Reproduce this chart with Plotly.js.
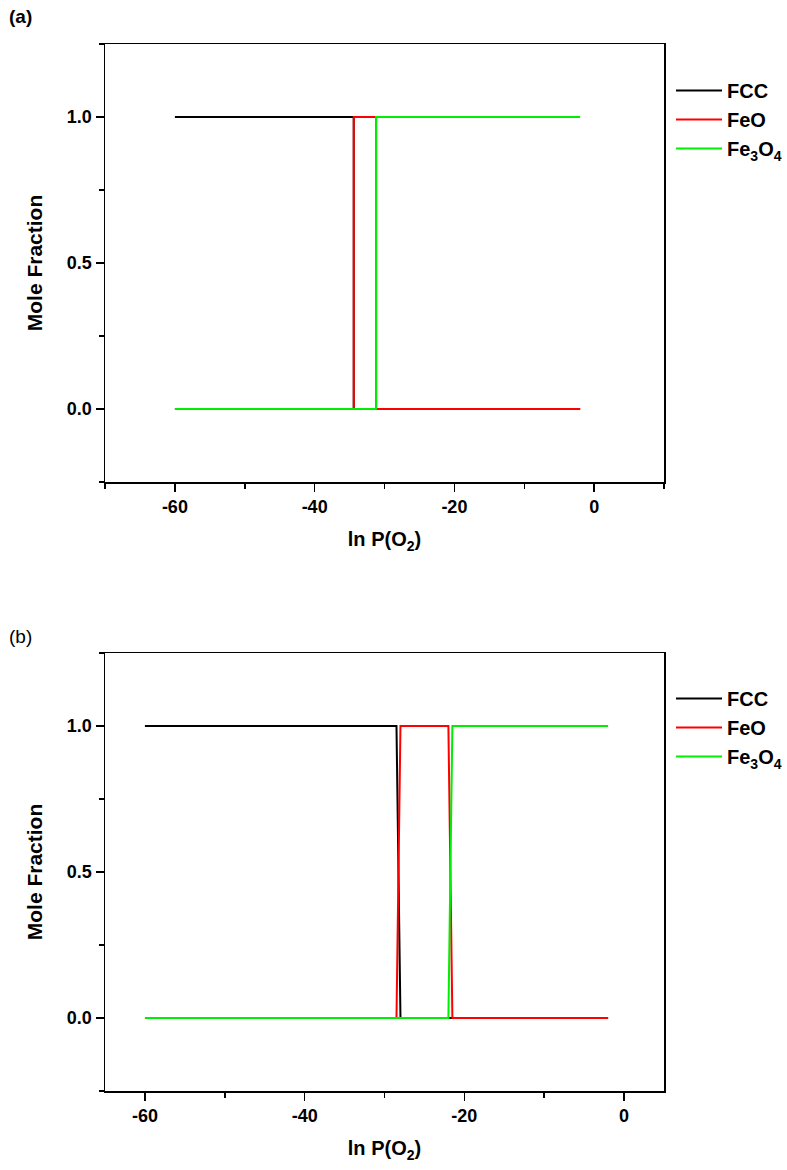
<!DOCTYPE html>
<html>
<head>
<meta charset="utf-8">
<script src="https://cdn.plot.ly/plotly-3.0.1.min.js"></script>
<style>html,body{margin:0;padding:0;background:#fff;}#chart{width:787px;height:1170px;}</style>
</head>
<body>
<div id="chart"></div>
<script>
// Panel (a)
const xFccA = [-60, -34.4, -34.4, -2];
const yFccA = [1, 1, 0, 0];
const xFeoA = [-60, -34.4, -34.4, -31.2, -31.2, -2];
const yFeoA = [0, 0, 1, 1, 0, 0];
const xFe3A = [-60, -31.2, -31.2, -2];
const yFe3A = [0, 0, 1, 1];
// Panel (b)
const xFccB = [-60, -28.5, -28.0, -2];
const yFccB = [1, 1, 0, 0];
const xFeoB = [-60, -28.5, -28.0, -22.0, -21.5, -2];
const yFeoB = [0, 0, 1, 1, 0, 0];
const xFe3B = [-60, -22.0, -21.5, -2];
const yFe3B = [0, 0, 1, 1];

// Tick labels
const xTickVals = [-60, -40, -20, 0];
const xTickText = ['-60', '-40', '-20', '0'];
const yTickVals = [0, 0.5, 1];
const yTickText = ['0.0', '0.5', '1.0'];

const names = ['FCC', 'FeO', 'Fe<sub>3</sub>O<sub>4</sub>'];
const colors = ['#000000', '#ff0000', '#00ee00'];

const FONT = 'Liberation Sans, Arial, sans-serif';

function tr(x, y, i, xa, ya, leg) {
  return {x: x, y: y, type: 'scatter', mode: 'lines', name: names[i],
    line: {color: colors[i], width: 2}, xaxis: xa, yaxis: ya, legend: leg};
}

const data = [
  tr(xFccA, yFccA, 0, 'x', 'y', 'legend'),
  tr(xFeoA, yFeoA, 1, 'x', 'y', 'legend'),
  tr(xFe3A, yFe3A, 2, 'x', 'y', 'legend'),
  tr(xFccB, yFccB, 0, 'x2', 'y2', 'legend2'),
  tr(xFeoB, yFeoB, 1, 'x2', 'y2', 'legend2'),
  tr(xFe3B, yFe3B, 2, 'x2', 'y2', 'legend2')
];

const W = 787, H = 1170;
function xax(range, anchor, titleText) {
  return {
    range: range, anchor: anchor, domain: [105 / W, 664 / W],
    tickmode: 'array', tickvals: xTickVals, ticktext: xTickText,
    ticks: 'outside', ticklen: 8, tickwidth: 1.5, tickcolor: '#000',
    minor: {dtick: 10, tick0: 0, ticks: 'outside', ticklen: 5, tickwidth: 1.5, tickcolor: '#000'},
    showline: true, linecolor: '#000', linewidth: 1.5, mirror: true,
    showgrid: false, zeroline: false,
    tickfont: {family: FONT, size: 18, color: '#000', weight: 'bold'},
    title: {text: titleText, font: {family: FONT, size: 20, color: '#000', weight: 'bold'}, standoff: 16}
  };
}
function yax(domain, anchor) {
  return {
    range: [-0.25, 1.25], anchor: anchor, domain: domain,
    tickmode: 'array', tickvals: yTickVals, ticktext: yTickText,
    ticks: 'outside', ticklen: 8, tickwidth: 1.5, tickcolor: '#000',
    minor: {dtick: 0.25, tick0: 0, ticks: 'outside', ticklen: 5, tickwidth: 1.5, tickcolor: '#000'},
    showline: true, linecolor: '#000', linewidth: 1.5, mirror: true,
    showgrid: false, zeroline: false,
    tickfont: {family: FONT, size: 18, color: '#000', weight: 'bold'},
    title: {text: 'Mole Fraction', font: {family: FONT, size: 21, color: '#000', weight: 'bold'}, standoff: 18}
  };
}

const legFont = {family: FONT, size: 20, color: '#000', weight: 'bold'};
const layout = {
  width: W, height: H,
  margin: {l: 0, r: 0, t: 0, b: 0, autoexpand: false},
  paper_bgcolor: '#fff', plot_bgcolor: '#fff',
  showlegend: true,
  xaxis: xax([-70, 10], 'y', 'ln P(O<sub>2</sub>)'),
  yaxis: yax([1 - 482 / H, 1 - 44 / H], 'x'),
  xaxis2: xax([-65, 5], 'y2', 'ln P(O<sub>2</sub>)'),
  yaxis2: yax([1 - 1091 / H, 1 - 653 / H], 'x2'),
  legend: {x: 671 / W, y: 1 - 71 / H, xanchor: 'left', yanchor: 'top', font: legFont,
    bgcolor: 'rgba(0,0,0,0)', tracegroupgap: 0, itemwidth: 46},
  legend2: {x: 671 / W, y: 1 - 679 / H, xanchor: 'left', yanchor: 'top', font: legFont,
    bgcolor: 'rgba(0,0,0,0)', tracegroupgap: 0, itemwidth: 46},
  annotations: [
    {text: '(a)', xref: 'paper', yref: 'paper', x: 7 / W, y: 1 - 17 / H, xanchor: 'left', yanchor: 'middle',
      showarrow: false, font: {family: FONT, size: 19, color: '#000', weight: 'bold'}},
    {text: '(b)', xref: 'paper', yref: 'paper', x: 7 / W, y: 1 - 636 / H, xanchor: 'left', yanchor: 'middle',
      showarrow: false, font: {family: FONT, size: 19, color: '#000'}}
  ]
};

Plotly.newPlot('chart', data, layout, {displayModeBar: false, staticPlot: true});
</script>
</body>
</html>
